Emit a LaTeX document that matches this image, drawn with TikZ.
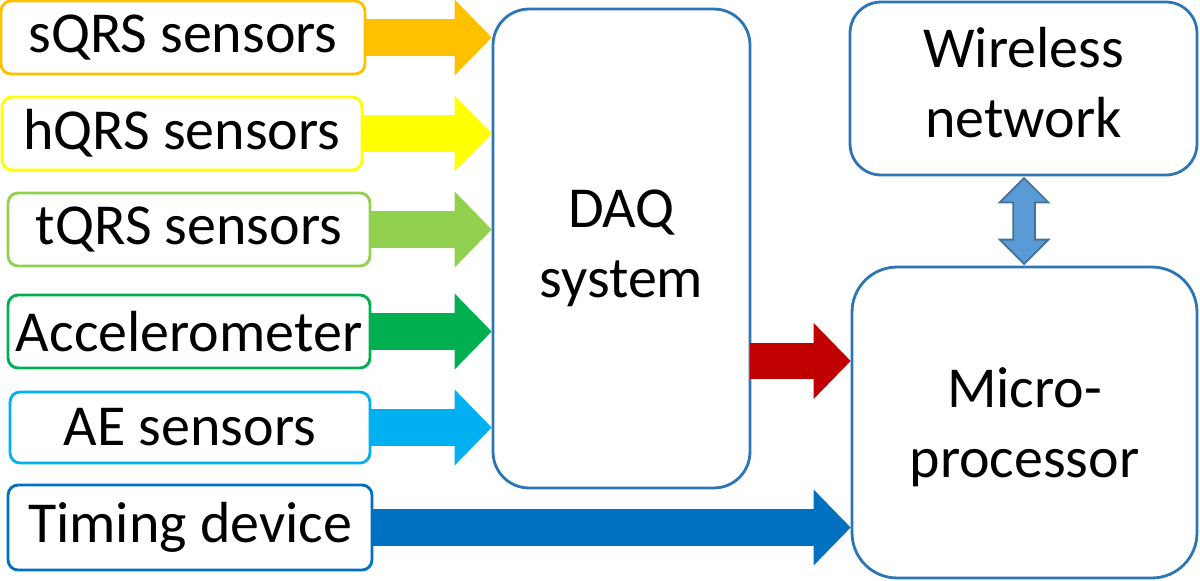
\documentclass[tikz,border=0pt]{standalone}
\usepackage{fontspec}
\setmainfont{Carlito}
\usetikzlibrary{arrows.meta,shapes.arrows}

\definecolor{sqrscol}{HTML}{FFC000}
\definecolor{hqrscol}{HTML}{FFFF00}
\definecolor{tqrscol}{HTML}{92D050}
\definecolor{accelcol}{HTML}{00B050}
\definecolor{aecol}{HTML}{00B0F0}
\definecolor{timecol}{HTML}{0070C0}
\definecolor{daqcol}{HTML}{C00000}
\definecolor{boxblue}{HTML}{2E75B6}
\definecolor{linkfill}{HTML}{5B9BD5}
\definecolor{linkdraw}{HTML}{41719C}

\begin{document}
\begin{tikzpicture}[x=0.02cm,y=-0.02cm,
        box/.style={draw, line width=1.6pt, fill=white, align=center, inner sep=0pt,
            font=\fontsize{33}{40}\selectfont},
        inbox/.style={box, rounded corners=0.2cm, minimum width=7.24cm, minimum height=1.46cm},
        bigbox/.style={box, draw=boxblue},
        fat/.style={line width=0.74cm, -{Triangle[length=0.74cm, width=1.52cm, line width=0pt]}}]
        \useasboundingbox (0,0) rectangle (1200,581);

        % inputs
        \node[inbox, draw=sqrscol, minimum width=7.28cm] (sqrs) at (183,37.5) {sQRS sensors};
        \node[inbox, draw=hqrscol, minimum width=7.2cm] (hqrs) at (182,133.5) {hQRS sensors};
        \node[inbox, draw=tqrscol] (tqrs) at (189,229.5) {tQRS sensors};
        \node[inbox, draw=accelcol] (accel) at (189,331.5) {Accelerometer};
        \node[inbox, draw=aecol, minimum width=7.2cm, minimum height=1.42cm] (ae) at (190,427.5) {AE sensors};
        \node[inbox, draw=timecol, minimum width=7.28cm, minimum height=1.7cm] (timing) at (190,527.5) {Timing device};

        % main blocks
        \node[bigbox, rounded corners=0.72cm, minimum width=5.14cm, minimum height=9.58cm] (daq) at (621.5,248.5) {DAQ\\system};
        \node[bigbox, rounded corners=0.62cm, minimum width=6.94cm, minimum height=3.46cm, text depth=0.24cm] (wireless) at (1023.5,88.5) {Wireless\\network};
        \node[bigbox, rounded corners=0.9cm, minimum width=6.9cm, minimum height=6.22cm, text depth=0pt] (micro) at (1024.5,422.5) {Micro-\\processor};

        % arrows
        \foreach \n/\c in {sqrs/sqrscol, hqrs/hqrscol, tqrs/tqrscol, accel/accelcol, ae/aecol}
        \draw[fat, \c] (\n.east) -- (\n.east -| daq.west);
        \coordinate (daqout) at (750,361);
        \draw[fat, daqcol] (daqout) -- (daqout -| micro.west);
        \draw[fat, timecol] (timing.east) -- (timing.east -| micro.west);

        \path (wireless.south) -- (micro.north) node[midway, double arrow, rotate=90, draw=linkdraw, fill=linkfill,
            line width=1pt, inner sep=0pt, inner ysep=0.2cm, minimum height=1.72cm,
            double arrow head extend=0.27cm] (link) {};

\end{tikzpicture}
\end{document}
